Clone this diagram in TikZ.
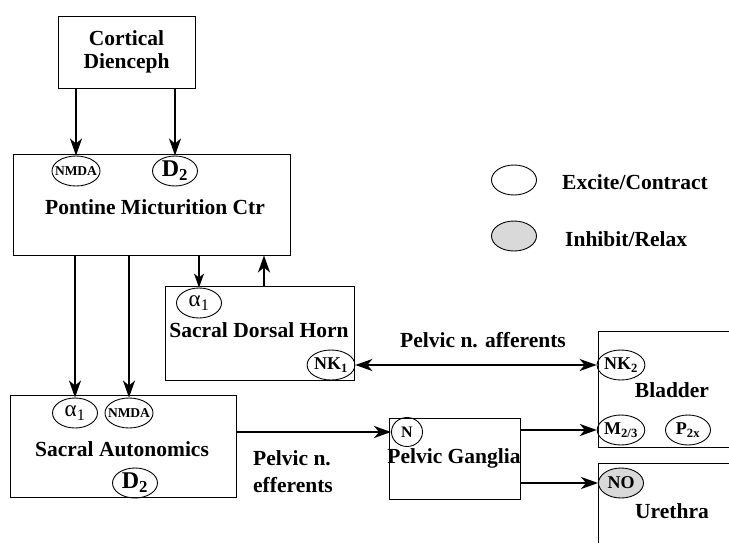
\documentclass[tikz,border=0pt]{standalone}
\usepackage{fontspec}
\setmainfont{Liberation Serif}
\usetikzlibrary{arrows.meta,shapes.geometric}
\begin{document}
\begin{tikzpicture}[x=1pt,y=-1pt,
  box/.style={draw,line width=0.9pt,inner sep=0pt},
  rec/.style={draw,ellipse,line width=0.9pt,minimum width=45pt,minimum height=30pt,inner sep=0pt,font=\fontsize{18}{20}\selectfont\bfseries},
  nmda/.style={rec,ellipse,inner xsep=-4pt,minimum width=45pt,font=\fontsize{13.5}{15}\selectfont\bfseries},
  inh/.style={rec,fill=gray!30},
  lab/.style={font=\fontsize{21.5}{23}\selectfont\bfseries,inner sep=0pt},
  arr/.style={line width=2pt,-{Stealth[length=17pt,width=12pt,inset=5pt]}},
  thinarr/.style={line width=1.2pt,-{Stealth[length=14pt,width=10pt,inset=4pt]}},
  dblarr/.style={line width=2pt,{Stealth[length=17pt,width=12pt,inset=5pt]}-{Stealth[length=17pt,width=12pt,inset=5pt]}}
]
\useasboundingbox (0,0) rectangle (729,546);

% boxes
\node[box,lab,align=center,minimum width=137pt,minimum height=72pt] (cort) at (126.5,52) {Cortical\\Dienceph};
\node[box,minimum width=277pt,minimum height=101pt] (pont) at (151.5,204.5) {};
\node[box,minimum width=189pt,minimum height=94pt] (sdh) at (259.5,333) {};
\node[box,minimum width=226pt,minimum height=102pt] (sa) at (123,446) {};
\node[box,minimum width=131pt,minimum height=81pt] (pg) at (454.5,458.5) {};
\draw[line width=0.9pt] (729,331) -- (598,331) -- (598,447) -- (729,447);
\draw[line width=0.9pt] (729,463) -- (598,463) -- (598,543);

% box texts
\node[lab] (ponttxt) at (155,207) {Pontine Micturition Ctr};
\node[lab] (sdhtxt) at (259,330) {Sacral Dorsal Horn};
\node[lab] (satxt) at (122,449) {Sacral Autonomics};
\node[lab] (pgtxt) at (454,458) {Pelvic Ganglia};
\node[lab] (bltxt) at (672,390) {Bladder};
\node[lab] (urtxt) at (672,511) {Urethra};
\node[lab] (afftxt) at (483,340) {Pelvic n. afferents};
\node[lab,align=left,anchor=west,font=\fontsize{21.5}{27}\selectfont\bfseries] (efftxt) at (253,472) {Pelvic n.\\efferents};

% receptors
\node[nmda] (pN) at (76,171) {NMDA};
\node[rec,font=\fontsize{24}{26}\selectfont\bfseries] (pD) at (175,171) {D\textsubscript{2}};
\node[rec,font=\fontsize{23}{25}\selectfont] (sdhA) at (199,303) {α\textsubscript{1}};
\node[rec] (nk1) at (331,365) {NK\textsubscript{1}};
\node[rec,font=\fontsize{23}{25}\selectfont] (saA) at (75,413) {α\textsubscript{1}};
\node[nmda] (saN) at (129,413) {NMDA};
\node[rec,font=\fontsize{24}{26}\selectfont\bfseries] (saD) at (135,483) {D\textsubscript{2}};
\node[rec,minimum width=31pt,minimum height=29pt,font=\fontsize{16}{18}\selectfont\bfseries] (gN) at (407,432) {N};
\node[rec] (nk2) at (621,365) {NK\textsubscript{2}};
\node[rec] (m23) at (621,430) {M\textsubscript{2/3}};
\node[rec] (p2x) at (688,430) {P\textsubscript{2x}};
\node[inh] (no) at (621,483) {NO};

% legend
\node[rec] (lex) at (514,180) {};
\node[inh] (lin) at (514,236) {};
\node[lab,anchor=west] (lextxt) at (562,182) {Excite/Contract};
\node[lab,anchor=west] (lintxt) at (565,239) {Inhibit/Relax};

% connectors
\draw[arr] (cort.south -| pN) -- (pN.north);
\draw[arr] (cort.south -| pD) -- (pD.north);
\draw[arr] (pont.south -| saA) -- (saA.north);
\draw[arr] (pont.south -| saN) -- (saN.north);
\draw[thinarr] (pont.south -| sdhA) -- (sdhA.north);
\coordinate (upx) at (264,300);
\draw[arr] (sdh.north -| upx) -- (pont.south -| upx);
\draw[dblarr] (nk1.east) -- (nk2.west);
\draw[arr] (sa.east |- gN) -- (gN.west);
\draw[arr] (pg.east |- m23) -- (m23.west);
\draw[arr] (pg.east |- no) -- (no.west);
\end{tikzpicture}
\end{document}
